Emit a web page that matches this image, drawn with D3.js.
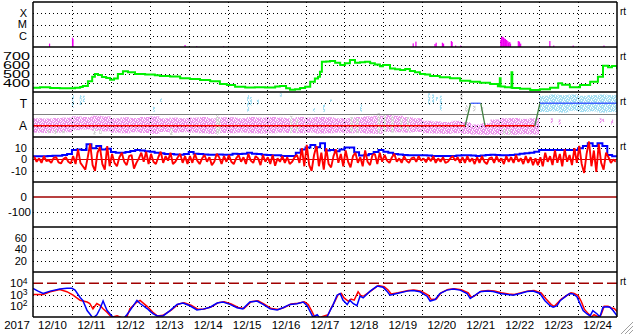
<!DOCTYPE html>
<html><head><meta charset="utf-8">
<script src="https://cdn.jsdelivr.net/npm/d3@7"></script>
<style>body{margin:0;background:#fff}svg{display:block}text{font-family:"Liberation Sans",Arial,sans-serif;fill:#000}</style>
</head><body><svg id="c" width="633" height="334"></svg>
<script>
// ---------------- DATA ----------------
const yearLabel = "2017";
const dayLabels = ["12/10","12/11","12/12","12/13","12/14","12/15","12/16","12/17","12/18","12/19","12/20","12/21","12/22","12/23","12/24"];
// X-ray flare flux (W/m2): time in days since 12/10 00UT
const flareT = [0.41,1.0,1.01,3.89,4.19,4.88,9.75,9.82,10.31,10.34,10.50,10.53,10.73,10.75,10.84,10.97,12.0,12.02,12.05,12.07,12.10,12.12,12.15,12.18,12.20,12.23,12.25,12.45,12.48,12.51,13.26,13.36,13.86,14.65];
const flareV = [2.0e-7,6.7e-7,5e-7,1.5e-7,1.2e-7,1.2e-7,2.1e-7,3.0e-7,1.85e-7,2.4e-7,2.4e-7,2.0e-7,3.4e-7,2.8e-7,1.35e-7,1.35e-7,4.2e-7,7.7e-7,8.2e-7,7.0e-7,5.7e-7,5.1e-7,4.2e-7,3.4e-7,2.5e-7,2.8e-7,2.0e-7,3.4e-7,3.0e-7,2.0e-7,3.4e-7,1.35e-7,1.35e-7,1.35e-7];
const flareTicks = ["X","M","C"];
const flareTickV = [1e-4,1e-5,1e-6];
// Solar wind speed (km/s)
const swT = [0,0.18,0.44,0.69,0.95,1.08,1.21,1.28,1.41,1.52,1.59,1.67,1.77,1.88,1.98,2.08,2.18,2.31,2.44,2.62,2.88,3.13,3.26,3.52,3.78,4.03,4.29,4.55,4.80,4.98,5.19,5.45,5.70,5.96,6.22,6.34,6.50,6.60,6.73,6.86,6.99,7.12,7.24,7.32,7.37,7.42,7.53,7.63,7.76,7.89,8.01,8.14,8.27,8.40,8.53,8.66,8.78,8.91,8.99,9.17,9.30,9.43,9.56,9.68,9.81,9.94,10.07,10.20,10.45,10.71,10.97,11.23,11.48,11.74,11.94,11.99,12.01,12.12,12.27,12.29,12.31,12.51,12.77,13.02,13.28,13.49,13.59,13.79,14.05,14.31,14.51,14.64,14.77,14.87,15];
const swV = [348,352,345,343,343,348,355,368,420,470,500,488,468,455,435,450,500,530,520,500,495,485,478,472,452,445,433,420,390,378,358,350,352,350,362,367,341,325,330,345,359,415,450,470,526,637,640,644,625,600,620,656,625,630,637,619,605,585,600,560,552,544,555,533,520,500,495,478,463,452,426,414,403,389,365,452,360,352,350,519,345,337,322,330,348,396,380,352,378,414,470,592,575,590,556];
const swTicks = [700,600,500,400];
// IMF sector (phi, deg): T=270, A=90
const sectorT = [0,11.10,11.24,11.50,11.61,12.89,13.02,15];
const sectorV = [90,90,270,270,90,90,270,270];
// phi scatter envelopes per 6h bin (away-side pink dots); null = no dense dots
const phiPinkHi = [150,148,152,155,165,160,170,165,150,158,152,160,165,150,155,150,155,160,150,158,158,150,160,155,160,155,150,160,155,160,158,150,150,160,165,170,175,170,160,150,130,125,120,130,120,100,110,140,150,152,145,150,null,null,null,null,null,null,null,null];
const phiPinkLo = [35,32,35,38,55,60,50,45,35,30,38,32,25,40,35,38,35,30,25,32,30,35,30,28,30,35,32,30,35,28,30,35,30,32,28,25,40,38,35,40,30,28,25,30,25,20,18,20,20,18,22,20,null,null,null,null,null,null,null,null];
// toward-side light-blue dots per 6h bin (from 13.0 d)
const phiBlueBandT0 = 13.0;
const phiBlueBandHi = [330,340,335,340,330,335,340,335];
const phiBlueBandLo = [200,205,195,210,200,205,195,200];
// isolated streaks [day, hi, lo]
const phiBlueStreakT = [1.0,1.2,1.28,3.08,3.26,5.5,5.57,5.75,6.34,7.19,7.45,7.63,8.4,10.15,10.25,10.35,10.45];
const phiBlueStreakHi = [335,335,330,242,310,336,320,300,350,232,260,300,260,350,340,320,330];
const phiBlueStreakLo = [232,256,280,202,282,202,250,260,322,202,202,280,202,256,270,290,210];
const phiPinkStreakT = [13.3,13.5,14.55,14.62,14.85];
const phiPinkStreakHi = [150,140,150,145,140];
const phiPinkStreakLo = [110,100,110,120,100];
const phiGrayT = [0.36,0.55,0.75,1.55,1.7,3.52,4.7,4.75,6.6,6.75,8.15,8.3,8.85,9.0,9.2,9.43,9.6,10.97,11.1,11.3,11.5,12.07,12.2];
const phiGrayHi = [55,60,50,70,60,70,176,150,170,140,160,150,192,180,170,150,160,350,256,250,240,70,60];
const phiGrayLo = [30,25,30,20,25,16,16,30,30,40,40,30,32,40,35,60,50,296,200,205,200,16,20];
const phiTicks = ["T","A"];
const phiTickV = [270,90];
// IMF Bz (nT), one value every 1.5 h ; Bt (nT) one value every 3 h
const bz = [
 2.5,-2,1,-3,3,-1.5,-0.5,-3,1.5,2,-2.5,-3.5,0.5,2,-2,-3.5,
 3,-4,9,-3,-6,-9,2,14,-5,-10,6,11,-4,-9,12,-6,
 5,-3,-6,2,6,-2,-5,3,4,-8,-3,1,6,-2,7,-4,
 5,-2,-4,2,7,-3,3,-1,6,-4,-2,2,5,-3,3,-4,
 3,-3,5,-1,-4,1,4,-2,2,-5,-2,5,2,-4,3,-2,
 4,-2,-4,1,4,-2,2,-4,5,-1,-3,3,1,-5,4,-2,
 2,-4,4,-5.5,1,-2,3,-3,2,-4,-2,2,4,-3,10,-6,
 13,-5,-10,4,12,-6,6,-9,10,-4,-7,3,9,-3,5,-6,
 8,-2,-7,3,6,-3,2,-6,8,-2,-5,4,5,-4,6,-2,
 4,-1,-3,2,5,-2,1,-3,3,-1,-3,1,2,-2,3,-1,
 1,-2.5,2,-1.5,3,-3,1,-2,2,-3,-2,1,3,-1,2,-3,
 2,-3,3,-2,1,-4,2,-3,3,-2,-4,1,2,-3,3,-2,
 1,-4,3,-2,2,-3,4,-2,1,-4,3,-3,2,-5,1,-5,
 2,-6,6,-2,3,-5,8,-3,5,-6,9,-2,4,-5,10,-3,
 12,-4,-12,5,16,-6,8,-11,14,-3,-9,6,2,-3,0,-2];
const bt = [3,3,3,3.2,3.4,3.4,4,5,8.5,9,8.5,13.5,10,12,9,9.5,6.6,6,6,6.6,7.5,8.4,8,7.4,7,6,5.5,5,4.9,4.5,4.3,5,6.6,5.2,5,4.5,4.3,4.3,4.5,4.3,4.3,5.2,4.9,5.2,6,5.2,4.8,4.3,4,3.7,3.7,3.2,3.2,3.2,6,9,10.6,13,11,14.4,8,8.4,7.4,9,10.6,10.6,6.5,3.5,3.7,5,6.6,8.4,7,6,5,4.5,4,3.7,3.7,3.7,3.7,3.5,3.2,3.2,3.2,3.2,3.2,3.5,3.7,3.7,3.5,3.2,3.5,4,4.3,4,3.7,3.7,4,4.5,5.2,5.5,6,7,8.4,8.4,8.4,8.4,8.4,8.4,8.4,8.4,10,12,14.4,12,14.4,12,4,3];
const bzTicks = [10,0,-10];
// Dst (nT) and Kp-like panel: axis only
const dstTicks = [0,-100];
const kpTicks = [60,40,20];
// Electron flux (log10), two satellites
const eBlueT = [0,0.13,0.26,0.44,0.69,0.87,1.0,1.08,1.21,1.28,1.39,1.46,1.54,1.64,1.72,1.80,1.90,1.98,2.05,2.16,2.31,2.41,2.49,2.67,2.75,2.83,2.93,3.01,3.08,3.19,3.34,3.52,3.70,3.85,4.03,4.21,4.37,4.55,4.73,4.88,5.06,5.24,5.39,5.57,5.75,5.91,6.09,6.27,6.42,6.60,6.78,6.94,7.04,7.12,7.19,7.30,7.37,7.55,7.63,7.71,7.81,7.89,7.96,8.07,8.14,8.22,8.32,8.40,8.48,8.66,8.84,8.99,9.09,9.17,9.35,9.61,9.76,9.94,10.12,10.20,10.33,10.45,10.63,10.79,10.97,11.15,11.23,11.30,11.48,11.66,11.82,12.0,12.18,12.33,12.51,12.69,12.84,13.02,13.15,13.28,13.36,13.46,13.54,13.72,13.79,13.87,13.97,14.05,14.13,14.23,14.31,14.38,14.49,14.56,14.64,14.74,14.82,14.90,15.0];
const eBlueV = [3.55,3.3,3.09,3.3,3.48,3.55,3.55,3.4,2.73,2.48,1.57,1.27,0.9,1.2,1.73,2.42,1.6,1.27,1.0,0.8,0.8,1.2,1.57,2.48,2.2,2.0,1.75,1.5,1.3,1.1,1.1,1.57,2.12,2.24,2.0,1.63,1.7,1.87,2.24,2.33,2.12,1.82,1.72,2.33,2.42,2.12,1.72,1.63,1.82,2.12,2.18,2.33,2.0,1.48,1.0,1.2,0.9,1.0,1.57,2.1,2.94,3.09,2.5,2.1,2.5,2.2,2.0,2.85,2.7,3.3,3.75,3.65,3.3,2.94,3.09,3.3,3.35,3.24,2.85,2.42,2.55,3.09,3.39,3.48,3.39,3.09,2.64,2.8,3.24,3.3,3.27,3.09,3.0,2.94,3.09,3.27,3.3,3.09,2.45,2.0,1.87,2.0,2.45,2.94,3.09,3.05,2.8,2.18,1.57,1.27,1.1,1.57,1.27,1.0,1.87,1.9,1.87,1.57,1.1];
const eRedT = [0,0.26,0.44,0.69,0.87,1.03,1.21,1.39,1.46,1.54,1.64,1.72,1.80,1.90,1.98,2.05,2.16,2.31,2.41,2.49,2.67,2.75,2.93,3.08,3.19,3.34,3.55,3.73,3.88,4.06,4.24,4.40,4.58,4.76,4.91,5.09,5.27,5.42,5.60,5.78,5.94,6.12,6.30,6.45,6.63,6.81,6.97,7.07,7.15,7.22,7.30,7.40,7.58,7.66,7.74,7.84,7.92,7.99,8.10,8.17,8.25,8.35,8.43,8.51,8.69,8.87,9.02,9.12,9.20,9.38,9.64,9.79,9.97,10.15,10.23,10.36,10.48,10.66,10.82,11.00,11.18,11.26,11.33,11.51,11.69,11.85,12.03,12.21,12.36,12.54,12.72,12.87,13.05,13.18,13.31,13.39,13.49,13.57,13.75,13.82,13.90,14.00,14.08,14.16,14.26,14.34,14.41,14.52,14.59,14.67,14.77,14.85,14.93,15.0];
const eRedV = [3.0,3.0,3.25,3.45,3.25,2.95,2.48,2.33,2.2,1.73,2.2,2.03,1.73,1.42,1.12,1.0,1.1,0.9,1.0,1.73,2.33,2.48,1.95,1.42,1.1,1.15,1.6,2.15,2.27,2.05,1.68,1.72,1.9,2.28,2.36,2.15,1.85,1.75,2.36,2.45,2.15,1.75,1.66,1.85,2.15,2.22,2.36,2.1,1.6,1.1,0.9,1.0,1.2,1.8,2.3,3.0,3.1,2.7,2.4,2.6,2.5,3.24,2.85,2.9,3.35,3.8,3.7,3.4,3.05,3.15,3.35,3.4,3.3,2.95,2.55,2.6,3.15,3.45,3.52,3.42,3.15,2.75,2.85,3.3,3.35,3.32,3.15,3.05,3.0,3.15,3.32,3.35,3.15,2.6,2.1,1.95,2.3,2.6,3.0,3.15,3.1,2.9,2.4,1.7,1.3,1.0,1.2,1.0,1.2,1.95,1.95,1.8,1.75,1.5];
const eTickExp = [4,3,2];
const eAlertExp = 4;

// ---------------- LAYOUT ----------------
const L = 33, R = 617, PH = 45;
const tops = [2,47,92,137,182,227,272];
const bottom = 317;
const svg = d3.select("#c");
const t0 = Date.UTC(2017,11,10);
const D = d => new Date(t0 + d*864e5);
const x = d3.scaleUtc().domain([D(0), D(15)]).range([L, R]);

const yFl = d3.scaleLog().domain([1e-7,1e-3]).range([tops[0]+PH, tops[0]]);
const ySw = d3.scaleLinear().domain([300,800]).range([tops[1]+PH, tops[1]]);
const yPhi = d3.scaleLinear().domain([0,360]).range([tops[2]+PH, tops[2]]);
const yBz = d3.scaleLinear().domain([-20,20]).range([tops[3]+PH, tops[3]]);
const yDst = d3.scaleLinear().domain([-200,100]).range([tops[4]+PH, tops[4]]);
const yKp = d3.scaleLinear().domain([0,80]).range([tops[5]+PH, tops[5]]);
const yE = d3.scaleLog().domain([10,1e5]).range([tops[6]+PH, tops[6]]);

const defs = svg.append("defs");
tops.forEach((t,i)=>{
  defs.append("clipPath").attr("id","cp"+i).append("rect").attr("x",L).attr("y",t).attr("width",R-L).attr("height",PH);
});
// speckled textures for the scatter clouds (fixed tile)
const tile = ["1101101","0111011","1011110","1110101","0110111","1101011"];
function pattern(id,col){
  const p = defs.append("pattern").attr("id",id).attr("width",tile[0].length).attr("height",tile.length).attr("patternUnits","userSpaceOnUse");
  tile.forEach((row,r)=>row.split("").forEach((c,k)=>{ if(c==="1") p.append("rect").attr("x",k).attr("y",r).attr("width",1).attr("height",1).attr("fill",col); }));
}
pattern("pinkDots","#ec98ec");
pattern("blueDots","#a4def2");
pattern("grayDots","#d2d2d2");

const gScatter = svg.append("g");
const gGrid = svg.append("g");
const gData = svg.append("g");
const gFrame = svg.append("g");
const gText = svg.append("g");
const clip = (g,i) => g.append("g").attr("clip-path",`url(#cp${i})`);

const dot = "1,3";
function hgrid(y){ gGrid.append("line").attr("x1",L).attr("x2",R).attr("y1",Math.round(y)+0.5).attr("y2",Math.round(y)+0.5).attr("stroke","#000").attr("stroke-dasharray",dot); }
function label(txt,y,xr,fs){ return gText.append("text").attr("x",xr).attr("y",y).attr("dy","0.36em").attr("text-anchor","end").attr("font-size",fs||11).text(txt); }

// vertical day grid
const dayTicks = x.ticks(d3.utcDay.every(1)).slice(1,-1);
gGrid.selectAll("line.v").data(dayTicks).join("line").attr("class","v")
  .attr("x1",d=>Math.round(x(d))+0.5).attr("x2",d=>Math.round(x(d))+0.5)
  .attr("y1",tops[0]).attr("y2",bottom).attr("stroke","#000").attr("stroke-dasharray",dot);

// ---- panel 0 : flares
flareTickV.forEach((v,i)=>{ hgrid(yFl(v)); label(flareTicks[i],yFl(v),27); });
clip(gData,0).selectAll("rect").data(flareT).join("rect")
  .attr("x",d=>x(D(d))).attr("width",1.2)
  .attr("y",(d,i)=>yFl(flareV[i])).attr("height",(d,i)=>yFl.range()[0]-yFl(flareV[i]))
  .attr("fill","#f000f0");

// ---- panel 1 : speed
swTicks.forEach(v=>{ hgrid(ySw(v)); gText.append("text").attr("x",30).attr("y",ySw(v)).attr("dy","0.36em").attr("text-anchor","end")
  .attr("font-size",11).attr("textLength",27).attr("lengthAdjust","spacingAndGlyphs").text(v); });
clip(gData,1).append("path").datum(swT.map((t,i)=>[t,swV[i]]))
  .attr("d",d3.line().x(d=>x(D(d[0]))).y(d=>ySw(d[1])).curve(d3.curveStepAfter))
  .attr("fill","none").attr("stroke","#00f000").attr("stroke-width",2);

// ---- panel 2 : sector
phiTickV.forEach((v,i)=>{ hgrid(yPhi(v)); label(phiTicks[i],yPhi(v),27,12); });
const s2 = clip(gScatter,2);
const bw = 0.25;
const binRect = (g, hi, lo, start, fill) => g.append("g").selectAll("rect").data(hi.map((h,i)=>[i,h,lo[i]]).filter(d=>d[1]!=null)).join("rect")
  .attr("x",d=>x(D(start+d[0]*bw))).attr("width",d=>x(D(start+(d[0]+1)*bw))-x(D(start+d[0]*bw)))
  .attr("y",d=>yPhi(d[1])).attr("height",d=>yPhi(d[2])-yPhi(d[1])).attr("fill",fill);
binRect(s2, phiPinkHi, phiPinkLo, 0, "url(#pinkDots)");
binRect(s2, phiBlueBandHi, phiBlueBandLo, phiBlueBandT0, "url(#blueDots)");
const streaks = (g,T,Hi,Lo,fill,w) => g.append("g").selectAll("rect").data(T).join("rect")
  .attr("x",d=>x(D(d))).attr("width",w).attr("y",(d,i)=>yPhi(Hi[i])).attr("height",(d,i)=>yPhi(Lo[i])-yPhi(Hi[i])).attr("fill",fill);
streaks(s2, phiGrayT, phiGrayHi, phiGrayLo, "url(#grayDots)", 2.5);
streaks(s2, phiBlueStreakT, phiBlueStreakHi, phiBlueStreakLo, "url(#blueDots)", 2);
streaks(s2, phiPinkStreakT, phiPinkStreakHi, phiPinkStreakLo, "url(#pinkDots)", 2);
const p2 = clip(gData,2);
p2.append("line").attr("x1",L).attr("x2",R).attr("y1",yPhi(180)).attr("y2",yPhi(180)).attr("stroke","#808080").attr("stroke-width",1.2);
for(let i=0;i<sectorT.length-1;i++){
  const a=sectorV[i], b=sectorV[i+1];
  const col = a!==b ? "#408040" : (a===90 ? "#ff0000" : "#4060ff");
  p2.append("line").attr("x1",x(D(sectorT[i]))).attr("x2",x(D(sectorT[i+1])))
    .attr("y1",yPhi(a)).attr("y2",yPhi(b)).attr("stroke",col).attr("stroke-width",1.3);
}

// ---- panel 3 : Bz / Bt
bzTicks.forEach(v=>{ if(v!==0) hgrid(yBz(v)); label(v,yBz(v),27); });
const p3 = clip(gData,3);
const bwt = 0.125, bwz = 0.0625;
p3.append("path").datum(bt.map((v,i)=>[i*bwt,v]).concat([[15,bt[bt.length-1]]]))
  .attr("d",d3.line().x(d=>x(D(d[0]))).y(d=>yBz(d[1])).curve(d3.curveStepAfter))
  .attr("fill","none").attr("stroke","#0000ff").attr("stroke-width",2);
p3.append("line").attr("x1",L).attr("x2",R).attr("y1",yBz(0)).attr("y2",yBz(0)).attr("stroke","#d00000").attr("stroke-width",1.2);
p3.append("path").datum(bz.map((v,i)=>[(i+0.5)*bwz, v]))
  .attr("d",d3.line().x(d=>x(D(d[0]))).y(d=>yBz(d[1])))
  .attr("fill","none").attr("stroke","#ff0000").attr("stroke-width",1.9).attr("stroke-linejoin","bevel");

// ---- panel 4 : Dst
dstTicks.forEach(v=>{ if(v!==0) hgrid(yDst(v)); label(v,yDst(v),v===0?27:31,11.5); });
gData.append("line").attr("x1",L).attr("x2",R).attr("y1",yDst(0)).attr("y2",yDst(0)).attr("stroke","#a00000").attr("stroke-width",1.3);

// ---- panel 5 : Kp-like
kpTicks.forEach(v=>{ hgrid(yKp(v)); label(v,yKp(v),27); });

// ---- panel 6 : electrons
eTickExp.forEach(e=>{
  if(e!==eAlertExp) hgrid(yE(10**e));
  const t = gText.append("text").attr("x",10).attr("y",yE(10**e)).attr("dy","0.36em").attr("font-size",11.5);
  t.append("tspan").text("10");
  t.append("tspan").attr("dy","-0.45em").attr("font-size",8.5).text(e);
});
gData.append("line").attr("x1",L).attr("x2",R).attr("y1",yE(10**eAlertExp)).attr("y2",yE(10**eAlertExp))
  .attr("stroke","#a00000").attr("stroke-width",1.3).attr("stroke-dasharray","10,4");
const p6 = clip(gData,6);
const eLine = d3.line().x(d=>x(D(d[0]))).y(d=>yE(10**d[1]));
p6.append("path").datum(eRedT.map((t,i)=>[t,eRedV[i]])).attr("d",eLine).attr("fill","none").attr("stroke","#ff0000").attr("stroke-width",1.5);
p6.append("path").datum(eBlueT.map((t,i)=>[t,eBlueV[i]])).attr("d",eLine).attr("fill","none").attr("stroke","#0000ff").attr("stroke-width",1.5);

// ---- frame
tops.concat([bottom]).forEach(y=>{
  gFrame.append("line").attr("x1",L).attr("x2",R).attr("y1",y).attr("y2",y).attr("stroke","#000").attr("stroke-width",1.5);
});
[L,R].forEach(xx=>gFrame.append("line").attr("x1",xx).attr("x2",xx).attr("y1",tops[0]).attr("y2",bottom).attr("stroke","#000").attr("stroke-width",1.5));

// right "rt" marks
[0,1,2,3,6].forEach(i=>{
  gText.append("text").attr("x",620).attr("y",tops[i]+13).attr("font-size",10).text("rt");
});

// x labels
gText.append("text").attr("x",17).attr("y",329).attr("text-anchor","middle").attr("font-size",11.5).text(yearLabel);
gText.append("g").selectAll("text").data(dayLabels).join("text")
  .attr("x",(d,i)=>x(D(i+0.5))).attr("y",329).attr("text-anchor","middle").attr("font-size",11.5).text(d=>d);

// resize grip
[0,4,8].forEach(o=>{
  gFrame.append("line").attr("x1",621+o).attr("y1",334).attr("x2",633).attr("y2",322+o).attr("stroke","#a0a0a0").attr("stroke-width",1);
});
</script></body></html>
